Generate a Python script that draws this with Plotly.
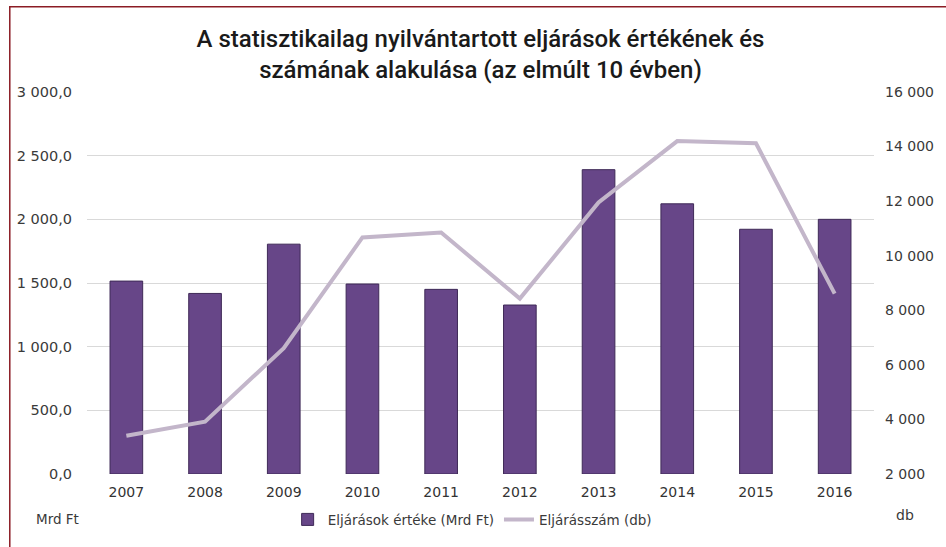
import plotly.graph_objects as go

years = ["2007", "2008", "2009", "2010", "2011", "2012", "2013", "2014", "2015", "2016"]
ertek = [1515, 1418, 1805, 1492, 1450, 1327, 2390, 2122, 1922, 2000]
darab = [3400, 3920, 6610, 10670, 10850, 8430, 11950, 14200, 14120, 8610]

left_ticks = [0, 500, 1000, 1500, 2000, 2500, 3000]
left_labels = ["0,0", "500,0", "1 000,0", "1 500,0", "2 000,0", "2 500,0", "3 000,0"]
right_ticks = [2000, 4000, 6000, 8000, 10000, 12000, 14000, 16000]
right_labels = ["2 000", "4 000", "6 000", "8 000", "10 000", "12 000", "14 000", "16 000"]

title_text = "A statisztikailag nyilvántartott eljárások értékének és<br>számának alakulása (az elmúlt 10 évben)"

W, H = 946, 547
ml, mr, mt, mb = 87, 64, 92, 70
pw, ph = W - ml - mr, H - mt - mb

fig = go.Figure()
fig.add_trace(go.Bar(
    x=years, y=ertek, name="Eljárások értéke (Mrd Ft)",
    marker=dict(color="#674688", line=dict(color="#3f2a57", width=1)),
    yaxis="y",
))
fig.add_trace(go.Scatter(
    x=years, y=darab, name="Eljárásszám (db)", mode="lines",
    line=dict(color="#c3b6ca", width=4),
    yaxis="y2",
))

tick_fam = "DejaVu Sans, sans-serif"
title_fam = "Roboto, sans-serif"
fig.update_layout(
    width=W, height=H,
    margin=dict(l=ml, r=mr, t=mt, b=mb),
    paper_bgcolor="white", plot_bgcolor="white",
    bargap=0.585,
    font=dict(family=tick_fam, color="#3a3a3a", size=13),
    title=dict(text=title_text, x=0.5, xanchor="center", xref="paper",
               y=1 - 47 / H, yanchor="middle",
               font=dict(size=24, color="#1a1a1a", family=title_fam, weight=500)),
    xaxis=dict(type="category", showgrid=False, showline=False, ticks="",
               tickfont=dict(size=14, color="#333333"), ticklabelstandoff=8),
    yaxis=dict(range=[0, 3000], tickvals=left_ticks, ticktext=left_labels,
               showgrid=True, gridcolor="#d9d9d9", gridwidth=1, zeroline=False,
               showline=False, ticks="", ticklabelstandoff=14,
               tickfont=dict(size=14.5, color="#3a3a3a")),
    yaxis2=dict(range=[2000, 16000], tickvals=right_ticks, ticktext=right_labels,
                overlaying="y", side="right", showgrid=False, zeroline=False,
                showline=False, ticks="", ticklabelstandoff=10,
                tickfont=dict(size=14, color="#3a3a3a")),
    legend=dict(orientation="h", x=0.49, xanchor="center", y=-46 / ph, yanchor="middle",
                font=dict(size=13.5, color="#3a3a3a"), itemwidth=30, tracegroupgap=0,
                bgcolor="rgba(0,0,0,0)"),
    showlegend=True,
    annotations=[
        dict(text="Mrd Ft", xref="paper", yref="paper", x=(33 - ml) / pw, y=-(522 - (H - mb)) / ph,
             xanchor="left", yanchor="middle", showarrow=False, font=dict(size=13.5, color="#3a3a3a")),
        dict(text="db", xref="paper", yref="paper", x=(902 - ml) / pw, y=-(518 - (H - mb)) / ph,
             xanchor="left", yanchor="middle", showarrow=False, font=dict(size=14, color="#3a3a3a")),
    ],
    shapes=[
        dict(type="rect", xref="paper", yref="paper",
             x0=(9 - ml) / pw, x1=(W + 20 - ml) / pw,
             y0=-(H + 20 - (H - mb)) / ph, y1=((H - mb) - 6) / ph,
             line=dict(color="#8b1c24", width=1.5), fillcolor="rgba(0,0,0,0)", layer="below"),
    ],
)

fig.write_html("out.html", config={"displayModeBar": False},
               post_script="document.body.style.margin='0';document.body.style.overflow='hidden';")
